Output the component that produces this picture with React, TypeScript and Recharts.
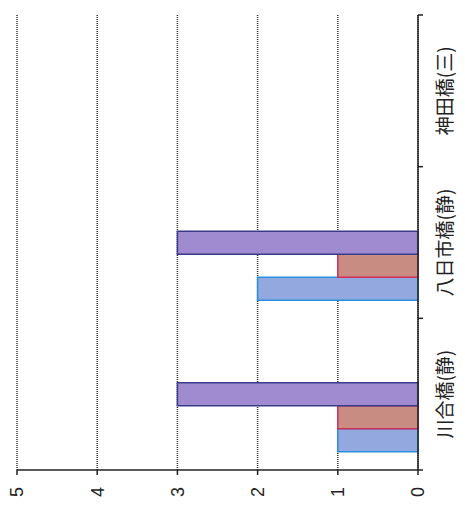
import React from 'react';
import { BarChart, Bar, XAxis, YAxis, CartesianGrid } from 'recharts';

const categories = ['川合橋(静)', '八日市橋(静)', '神田橋(三)'];
const blueValues = [1, 2, null];
const redValues = [1, 1, null];
const purpleValues = [3, 3, null];
const emptyA = [null, null, null];
const emptyB = [null, null, null];
const valueTicks = [0, 1, 2, 3, 4, 5];

const data = categories.map((name, i) => ({
  name,
  blue: blueValues[i],
  red: redValues[i],
  purple: purpleValues[i],
  a: emptyA[i],
  b: emptyB[i],
}));

const W = 508;
const H = 465;
const CAT_TICK = 5;
const CAT_MARGIN = 16;

function CategoryTick(props: any) {
  const { x, y, payload, index } = props;
  const half = payload && typeof payload.offset === 'number' ? payload.offset : 0;
  const axisY = y - CAT_TICK - CAT_MARGIN;
  return (
    <g>
      {index === 0 && half > 0 ? (
        <line x1={x - half} x2={x - half} y1={axisY} y2={axisY + CAT_TICK} stroke="#222" strokeWidth={1.5} />
      ) : null}
      {half > 0 ? (
        <line x1={x + half} x2={x + half} y1={axisY} y2={axisY + CAT_TICK} stroke="#222" strokeWidth={1.5} />
      ) : null}
      <text
        x={x}
        y={y}
        dy="0.71em"
        textAnchor="middle"
        fill="#222"
        fontSize={19}
        fontFamily='"Noto Sans CJK JP", sans-serif'
      >
        {payload.value}
      </text>
    </g>
  );
}

export default function App() {
  return (
    <div style={{ position: 'fixed', top: 0, left: 0, width: 465, height: 508, overflow: 'hidden', background: '#fff' }}>
      <div style={{ width: W, height: H, transform: `translateY(${W}px) rotate(-90deg)`, transformOrigin: '0 0' }}>
        <BarChart
          width={W}
          height={H}
          data={data}
          margin={{ top: 17, right: 15, bottom: 0, left: 0 }}
          barCategoryGap="12%"
          barGap={0}
        >
          <CartesianGrid vertical={false} stroke="#333" strokeDasharray="1 1" strokeWidth={1.5} />
          <XAxis
            dataKey="name"
            height={47}
            tickLine={false}
            axisLine={{ stroke: '#222', strokeWidth: 1.5 }}
            tickSize={CAT_TICK}
            tickMargin={CAT_MARGIN}
            interval={0}
            tick={<CategoryTick />}
          />
          <YAxis
            domain={[0, 5]}
            ticks={valueTicks}
            width={38}
            tickSize={5}
            tickMargin={12}
            axisLine={{ stroke: '#222', strokeWidth: 1.5 }}
            tickLine={{ stroke: '#222', strokeWidth: 1.5 }}
            tick={{ fill: '#222', fontSize: 18, fontFamily: '"Liberation Sans", Arial, sans-serif' }}
          />
          <Bar dataKey="blue" fill="#94a8e0" stroke="#2a8fe0" strokeWidth={1.5} isAnimationActive={false} />
          <Bar dataKey="red" fill="#c98c82" stroke="#d2305a" strokeWidth={1.5} isAnimationActive={false} />
          <Bar dataKey="purple" fill="#a08ad0" stroke="#3a3a8a" strokeWidth={1.5} isAnimationActive={false} />
          <Bar dataKey="a" fill="#8fbf6a" isAnimationActive={false} />
          <Bar dataKey="b" fill="#f0a040" isAnimationActive={false} />
        </BarChart>
      </div>
    </div>
  );
}
